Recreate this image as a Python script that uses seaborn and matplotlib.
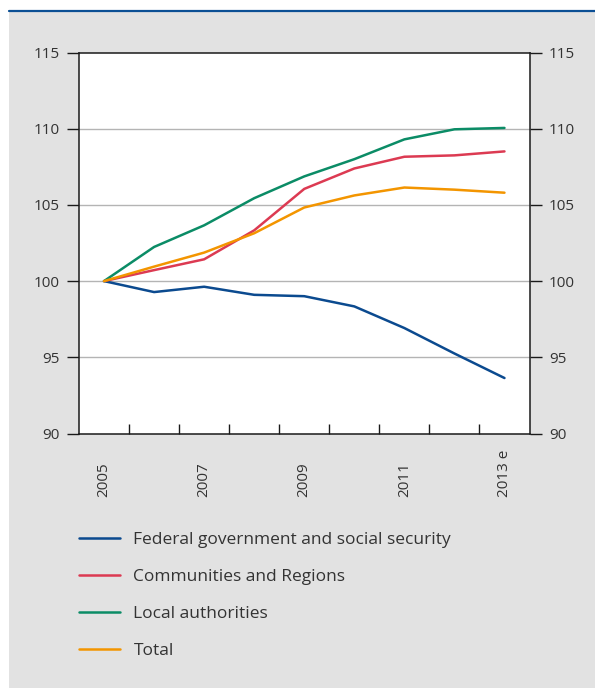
import matplotlib
matplotlib.use("Agg")
import matplotlib.pyplot as plt
from matplotlib.lines import Line2D
import numpy as np
import pandas as pd
import seaborn as sns

years = ["2005", "2006", "2007", "2008", "2009", "2010", "2011", "2012", "2013 e"]
shown_labels = ["2005", "", "2007", "", "2009", "", "2011", "", "2013 e"]

federal = [100.0, 99.28, 99.63, 99.10, 99.01, 98.34, 96.92, 95.25, 93.64]
communities = [100.0, 100.72, 101.43, 103.33, 106.05, 107.39, 108.16, 108.25, 108.51]
local = [100.0, 102.24, 103.66, 105.44, 106.87, 108.0, 109.3, 109.96, 110.05]
total = [100.0, 100.95, 101.87, 103.14, 104.83, 105.62, 106.14, 106.0, 105.8]

series_names = [
    "Federal government and social security",
    "Communities and Regions",
    "Local authorities",
    "Total",
]
series_colors = ["#0b4a8f", "#dc3a52", "#0b8c66", "#f39500"]

y_ticks = [90, 95, 100, 105, 110, 115]

frames = []
for name, vals in zip(series_names, [federal, communities, local, total]):
    frames.append(pd.DataFrame({"pos": np.arange(len(years)), "value": vals, "series": name}))
df = pd.concat(frames, ignore_index=True)

sns.set_style("white")
plt.rcParams["font.family"] = ["Open Sans", "DejaVu Sans"]

W, H = 595, 688
fig = plt.figure(figsize=(W / 100, H / 100), dpi=100)
fig.patch.set_facecolor("white")

# grey panel and blue rule along its top
fig.patches.append(plt.Rectangle((9 / W, 0), 1 - 9 / W, 1 - 12 / H, transform=fig.transFigure,
                                 facecolor="#e2e2e2", edgecolor="none", zorder=-2))
fig.lines.append(Line2D([9 / W, 1], [1 - 11 / H, 1 - 11 / H], transform=fig.transFigure,
                        color="#0b4f94", lw=1.6, zorder=-1))

ax = fig.add_axes([79 / W, 1 - 433.5 / H, (529.5 - 79) / W, (433.5 - 52.5) / H])
ax.set_zorder(1)
ax.set_facecolor("white")

palette = dict(zip(series_names, series_colors))
sns.lineplot(data=df, x="pos", y="value", hue="series", palette=palette,
             hue_order=series_names, linewidth=1.8, ax=ax, legend=False, zorder=3)

ax.set_xlim(-0.5, len(years) - 0.5)
ax.set_ylim(90, 115)
ax.set_yticks(y_ticks)
ax.set_yticklabels([str(t) for t in y_ticks])
ax.set_xlabel("")
ax.set_ylabel("")

for gy in [95, 100, 105, 110]:
    ax.axhline(gy, color="#b4b4b4", lw=1.0, zorder=1)

for side in ["left", "right", "top", "bottom"]:
    ax.spines[side].set_visible(True)
    ax.spines[side].set_color("#1a1a1a")
    ax.spines[side].set_linewidth(1.1)

ax.tick_params(axis="y", which="major", direction="out", length=8.5, width=1.0,
               color="#1a1a1a", left=True, right=True, labelleft=True, labelright=True,
               labelsize=11, labelcolor="#333333", pad=5.5)

ax.set_xticks(np.arange(len(years)))
ax.set_xticklabels(shown_labels, rotation=90)
ax.set_xticks(np.arange(len(years) - 1) + 0.5, minor=True)
ax.tick_params(axis="x", which="major", length=0, labelsize=11, labelcolor="#333333", pad=46)
ax.tick_params(axis="x", which="minor", direction="in", length=7.5, width=1.0,
               color="#1a1a1a", bottom=True)
for lab in ax.get_xticklabels():
    lab.set_verticalalignment("bottom")

handles = [Line2D([], [], color=c, lw=1.8) for c in series_colors]
leg = fig.legend(handles, series_names, loc="upper left",
                 bbox_to_anchor=(63 / W, 1 - 516 / H), frameon=False,
                 fontsize=12.5, handlelength=2.36, handletextpad=0.8,
                 labelspacing=1.21, labelcolor="#333333")

fig.savefig("out.png", dpi=100, facecolor=fig.get_facecolor())
